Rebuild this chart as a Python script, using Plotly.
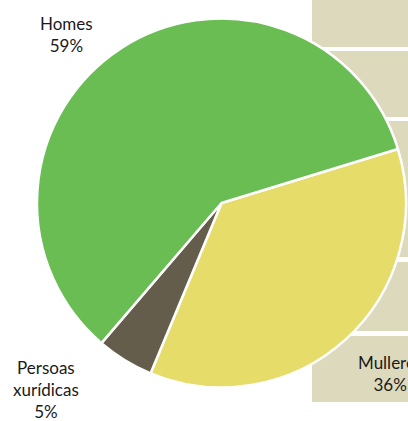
import plotly.graph_objects as go

# shares by type of holder
labels = ["Mulleres", "Persoas xurídicas", "Homes"]
values = [36, 5, 59]
colors = ["#E6DC6A", "#655D4B", "#6ABD53"]

W, H = 408, 421


def px(x):
    return x / W


def py(y):
    return 1 - y / H


fig = go.Figure()

fig.add_trace(
    go.Pie(
        labels=labels,
        values=values,
        sort=False,
        direction="clockwise",
        rotation=73,
        marker=dict(colors=colors, line=dict(color="white", width=2.5)),
        textinfo="none",
        hoverinfo="label+percent",
        showlegend=False,
        domain=dict(x=[px(37), px(406)], y=[py(388), py(18)]),
    )
)

# beige table blocks sitting behind the pie on the right
box_rows = [(0, 47), (51, 117), (121, 257), (262, 331), (336, 402)]
for top, bottom in box_rows:
    fig.add_shape(
        type="rect", xref="paper", yref="paper", layer="below",
        x0=px(312), x1=px(420), y0=py(bottom), y1=py(top),
        fillcolor="#DDD9BD", line=dict(width=0),
    )

# outside labels placed like the original
label_pos = {
    "Homes": (66, 34),
    "Persoas xurídicas": (46, 389),
    "Mulleres": (390, 373),
}
for lab, val in zip(labels, values):
    x, y = label_pos[lab]
    fig.add_annotation(
        x=px(x), y=py(y), xref="paper", yref="paper",
        text=lab.replace(" ", "<br>") + f"<br>{val}%",
        showarrow=False, xanchor="center", yanchor="middle",
        font=dict(family="Lato", size=17, color="#1a1a1a"),
        align="center",
    )

fig.update_layout(
    width=W, height=H,
    margin=dict(l=0, r=0, t=0, b=0),
    paper_bgcolor="white",
    plot_bgcolor="white",
)

# drop the default page margin so the figure sits flush in the window
fig.write_html(
    "out.html",
    config={"displayModeBar": False},
    post_script="document.body.style.margin='0';document.body.style.overflow='hidden';",
)
